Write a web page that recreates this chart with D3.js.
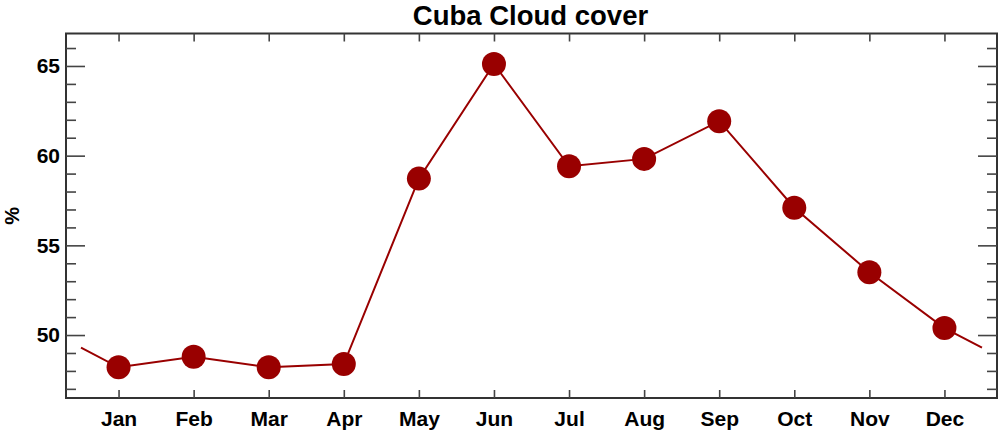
<!DOCTYPE html>
<html><head><meta charset="utf-8">
<script src="https://cdn.jsdelivr.net/npm/d3@7"></script>
<style>body{margin:0;background:#fff}svg{display:block;font-family:"Liberation Sans",Arial,Helvetica,sans-serif}</style>
</head><body><svg id="c" width="1000" height="433"></svg>
<script>
const months = ["Jan","Feb","Mar","Apr","May","Jun","Jul","Aug","Sep","Oct","Nov","Dec"];
const cloud = [48.2,48.79,48.2,48.38,58.72,65.11,59.41,59.82,61.92,57.1,53.5,50.39];
const yMajor = [50,55,60,65];
const yMinor = [47,48,49,51,52,53,54,56,57,58,59,61,62,63,64,66];
const title = "Cuba Cloud cover";
const yLabel = "%";

const L=66,R=997,T=33.5,B=398;
const svg=d3.select("#c");
const x=d3.scaleLinear().domain([-0.7,11.7]).range([L,R]);
const y=d3.scaleLinear().domain([46.49,66.81]).range([B,T]);
const red="#990000", axc="#333";

// wrapped line ends
const wrap=(cloud[0]+cloud[11])/2;
const pts=[[-0.5,wrap]].concat(cloud.map((v,i)=>[i,v])).concat([[11.5,wrap]]);
svg.append("path").datum(pts).attr("fill","none").attr("stroke",red).attr("stroke-width",2)
  .attr("d",d3.line().x(d=>x(d[0])).y(d=>y(d[1])));
svg.selectAll("circle").data(cloud).join("circle")
  .attr("cx",(d,i)=>x(i)).attr("cy",d=>y(d)).attr("r",12).attr("fill",red);

// frame
svg.append("rect").attr("x",L).attr("y",T).attr("width",R-L).attr("height",B-T)
  .attr("fill","none").attr("stroke",axc).attr("stroke-width",2);

// axes via d3 (inward ticks)
const xb=svg.append("g").attr("transform",`translate(0,${B})`)
  .call(d3.axisBottom(x).tickValues(d3.range(12)).tickSize(-8).tickPadding(15).tickFormat(i=>months[i]));
const xt=svg.append("g").attr("transform",`translate(0,${T})`)
  .call(d3.axisTop(x).tickValues(d3.range(12)).tickSize(-8).tickFormat(""));
const yl=svg.append("g").attr("transform",`translate(${L},0)`)
  .call(d3.axisLeft(y).tickValues(yMajor).tickSize(-19).tickPadding(6).tickFormat(d3.format("d")));
const ylm=svg.append("g").attr("transform",`translate(${L},0)`)
  .call(d3.axisLeft(y).tickValues(yMinor).tickSize(-10).tickFormat(""));
const yr=svg.append("g").attr("transform",`translate(${R},0)`)
  .call(d3.axisRight(y).tickValues(yMajor).tickSize(-19).tickFormat(""));
const yrm=svg.append("g").attr("transform",`translate(${R},0)`)
  .call(d3.axisRight(y).tickValues(yMinor).tickSize(-10).tickFormat(""));
[xb,xt,yl,ylm,yr,yrm].forEach(g=>{
  g.select(".domain").remove();
  g.selectAll(".tick line").attr("stroke","#444").attr("stroke-width",1.6);
  g.selectAll("text").attr("fill","#000").attr("font-size",21).attr("font-weight","bold")
   .attr("font-family","'Liberation Sans',Arial,sans-serif");
});
xb.selectAll("text").attr("dy",null).attr("y",null).attr("dominant-baseline","auto")
  .attr("transform","translate(0,28)");

svg.append("text").attr("x",(L+R)/2-1).attr("y",25).attr("text-anchor","middle")
  .attr("font-size",27.5).attr("font-weight","bold").text(title);
svg.append("text").attr("transform",`translate(19,${(T+B)/2}) rotate(-90)`)
  .attr("text-anchor","middle").attr("font-size",20).attr("font-weight","bold").text(yLabel);
</script></body></html>
